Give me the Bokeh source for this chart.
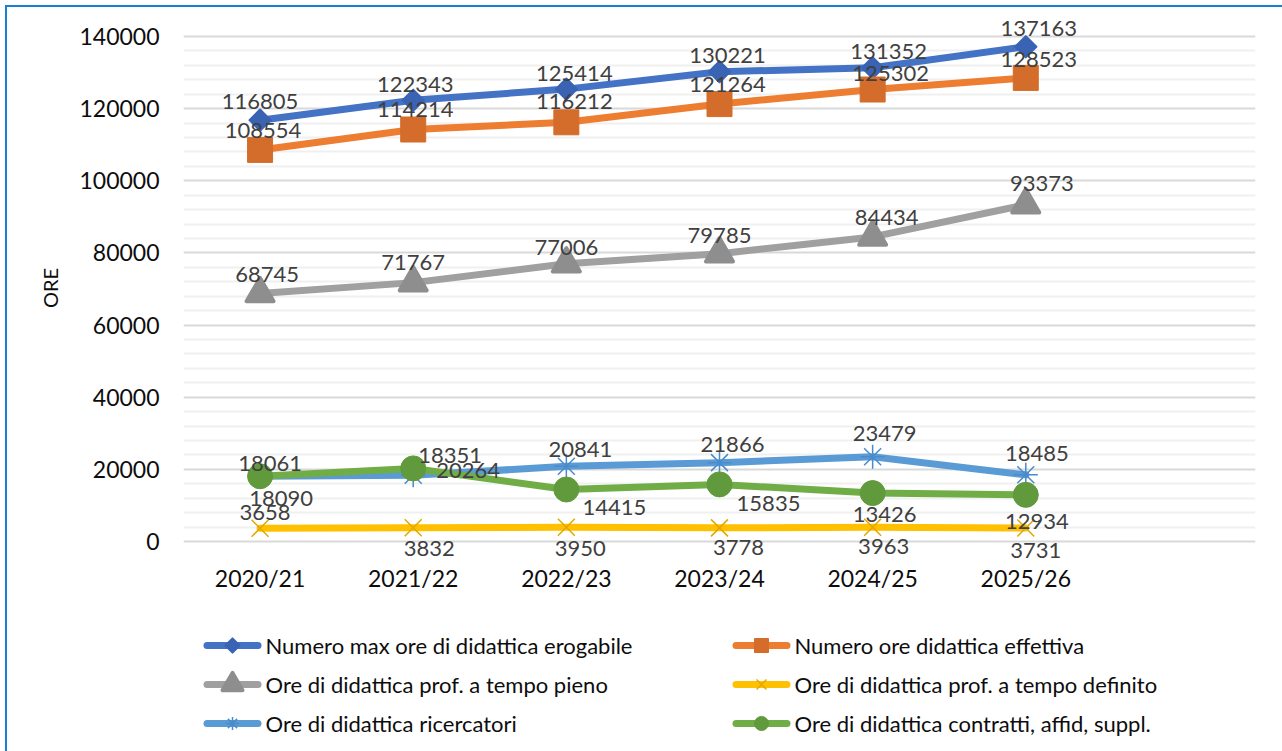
import math
from bokeh.plotting import figure
from bokeh.layouts import column
from bokeh.models import (Range1d, FixedTicker, ColumnDataSource, NumeralTickFormatter)
from bokeh.embed import file_html
from bokeh.resources import INLINE
from bokeh.core.properties import value

# ---------------- data ----------------
categories = ["2020/21", "2021/22", "2022/23", "2023/24", "2024/25", "2025/26"]
max_erogabile = [116805, 122343, 125414, 130221, 131352, 137163]
effettiva = [108554, 114214, 116212, 121264, 125302, 128523]
tempo_pieno = [68745, 71767, 77006, 79785, 84434, 93373]
tempo_definito = [3658, 3832, 3950, 3778, 3963, 3731]
ricercatori = [18061, 18351, 20841, 21866, 23479, 18485]
contratti = [18090, 20264, 14415, 15835, 13426, 12934]

series_names = [
    "Numero max ore di didattica erogabile",
    "Numero ore didattica effettiva",
    "Ore di didattica prof. a tempo pieno",
    "Ore di didattica prof. a tempo definito",
    "Ore di didattica ricercatori",
    "Ore di didattica contratti, affid, suppl.",
]
series_values = [max_erogabile, effettiva, tempo_pieno, tempo_definito, ricercatori, contratti]

y_major_ticks = [0, 20000, 40000, 60000, 80000, 100000, 120000, 140000]
y_minor_step = 4000

# ---------------- styles ----------------
FONT = "Lato"
line_colors = ["#4472C4", "#ED7D31", "#A0A0A0", "#FFC000", "#5B9BD5", "#70AD47"]
marker_colors = ["#3A63B3", "#D46D2B", "#8E8E8E", "#E2A800", "#4A8BCB", "#61993D"]
markers = ["square", "square", "triangle", "x", "asterisk", "circle"]
marker_sizes = [15, 25, 27, 24, 24, 25]
legend_marker_sizes = [10, 14, 20, 14, 13, 14]
marker_angles = [math.pi / 4, 0, 0, 0, 0, 0]
marker_line_widths = [2, 1, 4, 1.5, 1.5, 1]
# label offsets in screen pixels (dx, dy with dy negative = up)
label_dx = [
    [0, 2, 8, 8, 16, 13],
    [3, 2, 8, 8, 18, 13],
    [7, 0, 0, 0, 14, 16],
    [5, 16, 14, 19, 11, 10],
    [10, 37, 14, 13, 12, 11],
    [21, 55, 48, 49, 12, 11],
]
label_dy = [
    [-19, -16, -16, -16, -16, -18],
    [-19, -20, -21, -20, -16, -18],
    [-19, -20, -16, -18, -19, -21],
    [-16, 21, 21, 20, 19, 22],
    [-13, -20, -17, -18, -23, -21],
    [22, 2, 18, 19, 21, 27],
]

xs = list(range(len(categories)))
y_minor_ticks = [v for v in range(0, y_major_ticks[-1] + 1, y_minor_step) if v not in y_major_ticks]

W = 1282
H_MAIN, H_LEG = 600, 151
frame_left, frame_right = 183, 1255
# plot area: 0 at y=541, 140000 at y=36 (page px); frame padded so labels are not clipped
frame_top, frame_bottom = 15, 560
px_per_unit = (541 - 36) / y_major_ticks[-1]
y_lo = -(frame_bottom - 541) / px_per_unit
y_hi = y_major_ticks[-1] + (36 - frame_top) / px_per_unit

BORDER = "#1580D6"
def border_styles(top):
    if top:
        return {
            "background-color": "white",
            "background-image": f"linear-gradient({BORDER},{BORDER}), linear-gradient({BORDER},{BORDER})",
            "background-size": "2px 100%, 100% 2px",
            "background-position": "5px 5px, 5px 5px",
            "background-repeat": "no-repeat",
        }
    return {
        "background-color": "white",
        "background-image": f"linear-gradient({BORDER},{BORDER})",
        "background-size": "2px 100%",
        "background-position": "5px 0px",
        "background-repeat": "no-repeat",
    }

p = figure(width=W, height=H_MAIN, output_backend="svg", toolbar_location=None,
           x_range=Range1d(-0.5, len(categories) + 0.5), y_range=Range1d(y_lo, y_hi),
           min_border_left=frame_left, min_border_right=W - frame_right,
           min_border_top=frame_top, min_border_bottom=H_MAIN - frame_bottom,
           background_fill_color="white", border_fill_color=None)
p.outline_line_color = None
p.styles = border_styles(True)

# axes
p.yaxis.ticker = FixedTicker(ticks=y_major_ticks, minor_ticks=y_minor_ticks)
p.yaxis.formatter = NumeralTickFormatter(format="0")
p.xaxis.ticker = FixedTicker(ticks=xs)
p.xaxis.major_label_overrides = {i: c for i, c in enumerate(categories)}
for ax in (p.xaxis, p.yaxis):
    ax.axis_line_color = None
    ax.major_tick_line_color = None
    ax.minor_tick_line_color = None
    ax.major_tick_out = 0
    ax.minor_tick_out = 0
    ax.major_label_text_font = FONT
    ax.major_label_text_color = "#0D0D0D"
p.yaxis.major_label_text_font_size = "23px"
p.yaxis.major_label_standoff = 24
p.xaxis.major_label_text_font_size = "23px"
p.xaxis.major_label_standoff = 3
p.yaxis.axis_label = "ORE"
p.yaxis.axis_label_text_font = FONT
p.yaxis.axis_label_text_font_style = "normal"
p.yaxis.axis_label_text_font_size = "20px"
p.yaxis.axis_label_text_color = "#0D0D0D"
p.yaxis.axis_label_standoff = 14

p.xgrid.grid_line_color = None
p.ygrid.grid_line_color = "#D9D9D9"
p.ygrid.grid_line_width = 2
p.ygrid.minor_grid_line_color = "#F0F0F0"
p.ygrid.minor_grid_line_width = 2

def add_markers(fig, src, i, size):
    if markers[i] in ("x", "asterisk"):
        fig.scatter("x", "y", source=src, marker=markers[i], size=size,
                    line_color=marker_colors[i], line_width=marker_line_widths[i])
    else:
        fig.scatter("x", "y", source=src, marker=markers[i], size=size,
                    angle=marker_angles[i], fill_color=marker_colors[i],
                    line_color=marker_colors[i],
                    line_width=min(marker_line_widths[i], 2 if size < 20 else 4),
                    line_join="round")

# series
for i, vals in enumerate(series_values):
    src = ColumnDataSource(dict(x=xs, y=vals))
    p.line("x", "y", source=src, line_color=line_colors[i], line_width=7,
           line_join="round", line_cap="round")
    add_markers(p, src, i, marker_sizes[i])

# data labels
lx, ly, lt, ldx, ldy = [], [], [], [], []
for i, vals in enumerate(series_values):
    for j, v in enumerate(vals):
        lx.append(xs[j]); ly.append(v); lt.append(str(v))
        ldx.append(label_dx[i][j]); ldy.append(label_dy[i][j])
lsrc = ColumnDataSource(dict(x=lx, y=ly, t=lt, dx=ldx, dy=ldy))
p.text("x", "y", text="t", source=lsrc, x_offset="dx", y_offset="dy",
       text_align="center", text_baseline="middle", text_font=value(FONT),
       text_font_size="22px", text_color="#404040")

# ---------------- legend (separate strip below, page-pixel coordinates) ----------------
leg = figure(width=W, height=H_LEG, output_backend="svg", toolbar_location=None,
             x_range=Range1d(frame_left, frame_right), y_range=Range1d(H_LEG, 0),
             min_border_left=frame_left, min_border_right=W - frame_right,
             min_border_top=0, min_border_bottom=0,
             background_fill_color=None, border_fill_color=None,
             x_axis_type=None, y_axis_type=None)
leg.outline_line_color = None
leg.grid.visible = False
leg.styles = border_styles(False)

col_x = [203, 732]          # left end of legend swatch per column
row_y = [45, 84, 123]       # row centres in the strip
sw_len = 58
for i, name in enumerate(series_names):
    cx = col_x[i % 2]
    cy = row_y[i // 2]
    leg.line([cx + 3.5, cx + sw_len - 3.5], [cy, cy], line_color=line_colors[i],
             line_width=7, line_cap="round")
    add_markers(leg, ColumnDataSource(dict(x=[cx + sw_len / 2], y=[cy])), i,
                legend_marker_sizes[i])
    leg.text([cx + sw_len + 4], [cy], text=[name], text_align="left",
             text_baseline="middle", text_font=value(FONT), text_font_size="22px",
             text_color="#0D0D0D")

layout = column(p, leg, spacing=0)
open("out.html", "w").write(file_html(layout, INLINE))
